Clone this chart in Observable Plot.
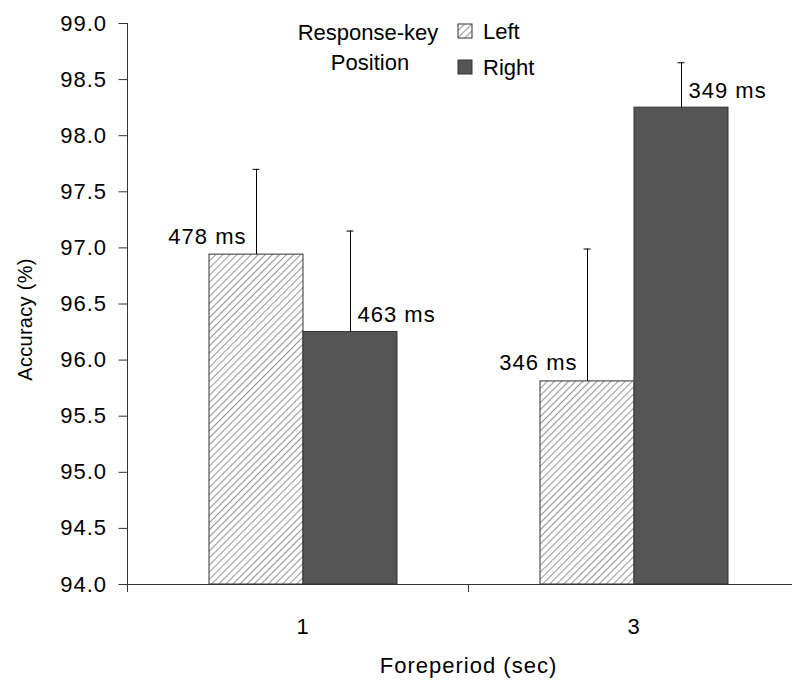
<!DOCTYPE html>
<html><head><meta charset="utf-8">
<script src="https://cdn.jsdelivr.net/npm/d3@7"></script>
<script src="https://cdn.jsdelivr.net/npm/@observablehq/plot@0.6"></script>
<style>
html,body{margin:0;padding:0;background:#fff;}
#chart{position:relative;width:792px;height:680px;overflow:hidden;}
</style></head><body>
<svg width="0" height="0" style="position:absolute">
<defs><pattern id="hatch" patternUnits="userSpaceOnUse" width="5" height="5" patternTransform="rotate(45)">
<rect width="5" height="5" fill="#fff"/><line x1="0" y1="0" x2="0" y2="5" stroke="#999" stroke-width="2.2"/></pattern></defs></svg>
<div id="chart"></div>
<script>
const forePeriods = ["1", "3"];
const keyPositions = ["Left", "Right"];
const accuracyLeft = [96.94, 95.81];
const accuracyRight = [96.25, 98.25];
const errorLeft = [0.76, 1.18];
const errorRight = [0.90, 0.40];
const rtLeft = [478, 346];
const rtRight = [463, 349];
const yTicks = [94.0, 94.5, 95.0, 95.5, 96.0, 96.5, 97.0, 97.5, 98.0, 98.5, 99.0];
const legendTitle = ["Response-key", "Position"];

const data = [];
forePeriods.forEach((fp, i) => {
  data.push({fp, key: "Left", acc: accuracyLeft[i], err: errorLeft[i], rt: rtLeft[i]});
  data.push({fp, key: "Right", acc: accuracyRight[i], err: errorRight[i], rt: rtRight[i]});
});

const FONT = "'Liberation Sans', Arial, sans-serif";
const chart = Plot.plot({
  width: 792, height: 680,
  marginLeft: 127, marginRight: -17, marginTop: 23, marginBottom: 96,
  style: {fontFamily: FONT, fontSize: "22px", letterSpacing: "1px", color: "#000", background: "#fff"},
  fx: {domain: forePeriods, paddingInner: 0, paddingOuter: 0.0287},
  x: {domain: keyPositions, paddingInner: 0, paddingOuter: 0.745, axis: null},
  y: {domain: [94, 99]},
  color: {domain: keyPositions, range: ["url(#hatch)", "#555555"]},
  marks: [
    Plot.axisY({ticks: yTicks, tickFormat: ".1f", tickSize: 9, tickPadding: 12, dx: -9.5, label: null, stroke: "#333", fill: "#000", fontSize: 22}),
    Plot.axisFx({anchor: "bottom", tickSize: 0, tickPadding: 34, label: null, fill: "#000", fontSize: 22}),
    Plot.axisFx({anchor: "bottom", ticks: [], tickSize: 0, label: "Foreperiod (sec)", labelAnchor: "center", labelOffset: 88, fill: "#000", fontSize: 22, letterSpacing: "1.4px"}),
    Plot.barY(data, {fx: "fp", x: "key", y1: 94, y2: "acc", fill: "key", stroke: "#333", strokeWidth: 1}),
    Plot.ruleX(data, {fx: "fp", x: "key", y1: "acc", y2: d => d.acc + d.err, stroke: "#000", strokeWidth: 1}),
    Plot.tickY(data, {fx: "fp", x: "key", y: d => d.acc + d.err, insetLeft: 43.5, insetRight: 43.5, stroke: "#000", strokeWidth: 1}),
    Plot.text(data.filter(d => d.key === "Left"), {fx: "fp", x: "key", y: "acc", text: d => `${d.rt} ms`, textAnchor: "end", dx: -10, dy: -18, fill: "#000"}),
    Plot.text(data.filter(d => d.key === "Right"), {fx: "fp", x: "key", y: "acc", text: d => `${d.rt} ms`, textAnchor: "start", dx: 7, dy: -17, fill: "#000"})
  ]
});
document.getElementById("chart").appendChild(chart);

// axis lines & category-boundary ticks derived from the scales
const svg = d3.select(chart);
const fx = chart.scale("fx"), y = chart.scale("y");
const x0 = fx.range[0], x1 = fx.range[1];
const yb = y.apply(94), yt = y.apply(99);
const g = svg.append("g").attr("stroke", "#333").attr("stroke-width", 1).attr("shape-rendering", "crispEdges");
g.append("line").attr("x1", x0).attr("x2", x1).attr("y1", yb).attr("y2", yb);
g.append("line").attr("x1", x0).attr("x2", x0).attr("y1", yt).attr("y2", yb + 8);
forePeriods.slice(1).forEach(k => {
  const xx = fx.apply(k);
  g.append("line").attr("x1", xx).attr("x2", xx).attr("y1", yb).attr("y2", yb + 8);
});
g.append("line").attr("x1", x1).attr("x2", x1).attr("y1", yb).attr("y2", yb + 8);

// y axis title
svg.append("text").attr("transform", `translate(${x0 - 102},${(yt + yb) / 2 + 16}) rotate(-90)`)
  .attr("text-anchor", "middle").attr("dominant-baseline", "central")
  .attr("font-family", FONT).attr("font-size", 20).attr("letter-spacing", "0.3px").attr("fill", "#000").text("Accuracy (%)");

// legend (inside plot area)
const color = chart.scale("color");
const lg = svg.append("g").attr("font-family", FONT).attr("font-size", 22).attr("letter-spacing", "0px").attr("fill", "#000");
legendTitle.forEach((t, i) => {
  lg.append("text").attr("x", 368 + i * 2).attr("y", 32 + i * 30).attr("text-anchor", "middle").attr("dominant-baseline", "central").text(t);
});
keyPositions.forEach((k, i) => {
  lg.append("rect").attr("x", 458).attr("y", 24 + i * 36).attr("width", 14).attr("height", 14)
    .attr("fill", color.apply(k)).attr("stroke", "#333");
  lg.append("text").attr("x", 483).attr("y", 31 + i * 36).attr("text-anchor", "start").attr("dominant-baseline", "central").text(k);
});
</script>
</body></html>
